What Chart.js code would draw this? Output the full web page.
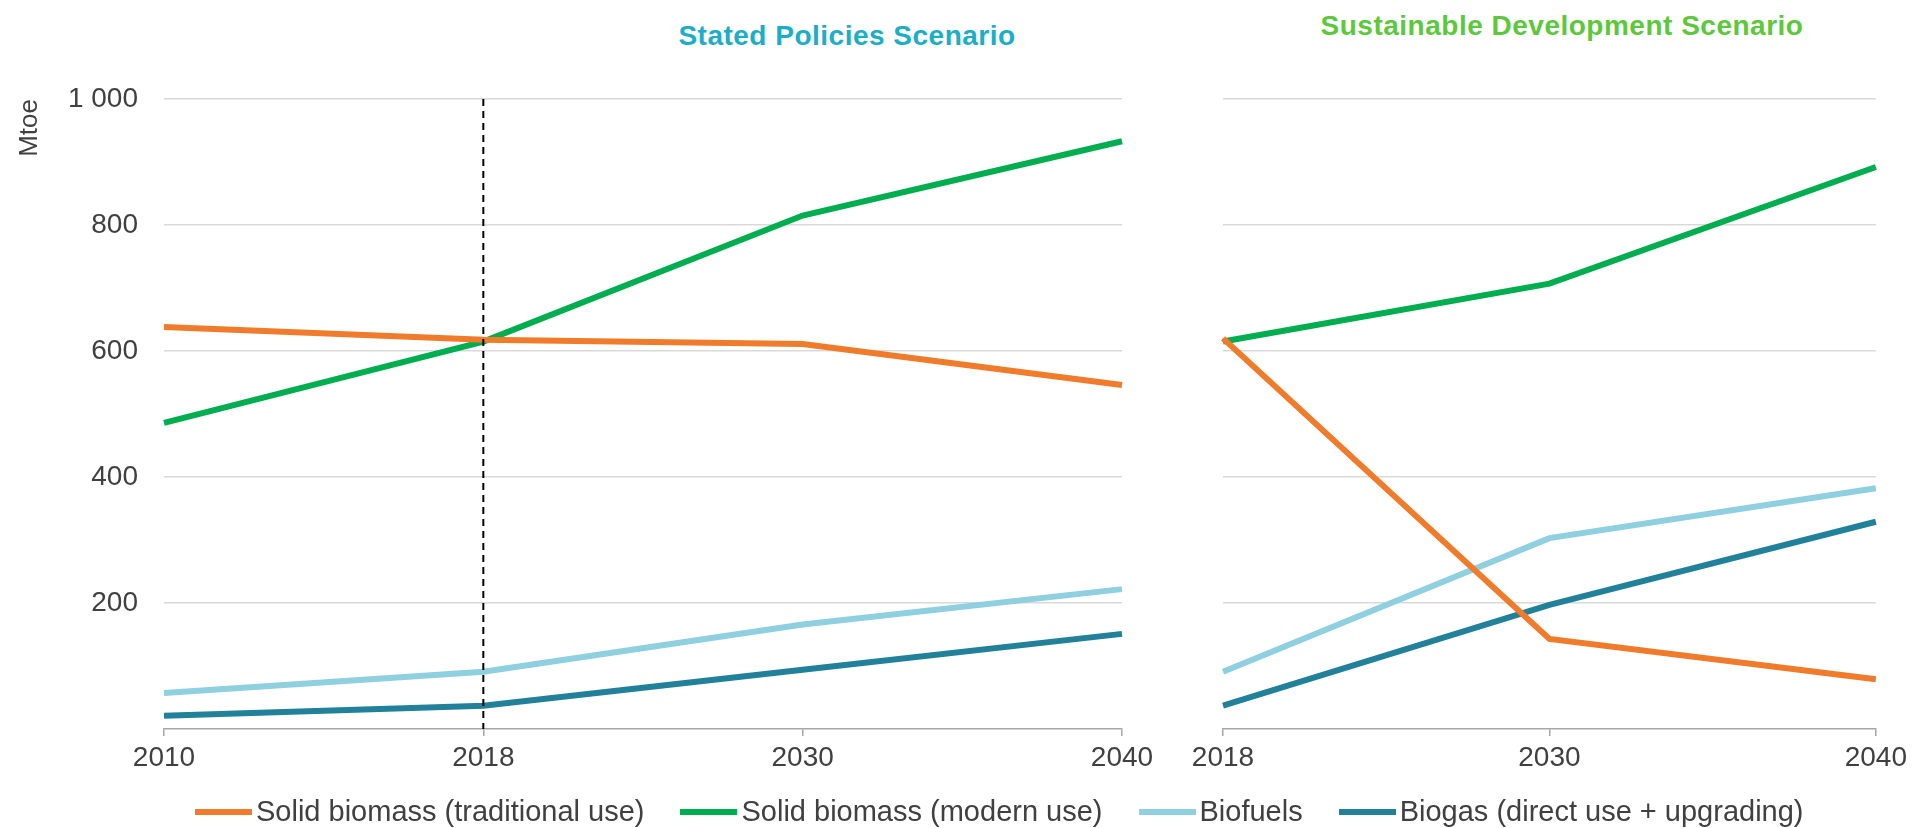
<!DOCTYPE html>
<html>
<head>
<meta charset="utf-8">
<script src="https://cdn.jsdelivr.net/npm/chart.js@4"></script>
<style>
    html, body { margin: 0; padding: 0; background: #ffffff; }
    body { width: 1912px; height: 828px; position: relative; overflow: hidden; font-family: "Liberation Sans", Arial, sans-serif; }
    canvas { position: absolute; top: 0; }
    #leftChart { left: 0; }
    #rightChart { left: 1180px; }
    .panelTitle { position: absolute; text-align: center; font-weight: bold; font-size: 28px; letter-spacing: 0.5px; white-space: nowrap; }
    #titleLeft { left: 597px; width: 500px; top: 20px; color: #1aaec8; }
    #titleRight { left: 1312px; width: 500px; top: 10px; color: #5cc83b; }
    #legend { position: absolute; left: 195px; top: 795px; display: flex; align-items: center; font-size: 29px; color: #404040; white-space: nowrap; }
    .item { display: flex; align-items: center; margin-right: 36px; }
    .swatch { display: inline-block; width: 57px; height: 6px; margin-right: 4px; }
</style>
</head>
<body>
<div id="titleLeft" class="panelTitle">Stated Policies Scenario</div>
<div id="titleRight" class="panelTitle">Sustainable Development Scenario</div>
<canvas id="leftChart" width="1180" height="828"></canvas>
<canvas id="rightChart" width="732" height="828"></canvas>
<div id="legend"></div>

<script>
// categories
const stepsYears = ['2010', '2018', '2030', '2040'];
const sdsYears = ['2018', '2030', '2040'];
const baseYear = '2018';

// series names and colours
const seriesNames = ['Solid biomass (traditional use)', 'Solid biomass (modern use)', 'Biofuels', 'Biogas (direct use + upgrading)'];
const seriesColors = ['#f07b2a', '#00ad4f', '#8ecfe0', '#21809a'];

// Stated Policies Scenario (Mtoe)
const stepsTraditional = [638, 618, 611, 546];
const stepsModern = [486, 615, 815, 933];
const stepsBiofuels = [57, 91, 166, 222];
const stepsBiogas = [21, 37, 94, 151];

// Sustainable Development Scenario (Mtoe)
const sdsTraditional = [620, 143, 79];
const sdsModern = [615, 707, 892];
const sdsBiofuels = [91, 303, 382];
const sdsBiogas = [37, 197, 329];

// y axis ticks
const yTickValues = [0, 200, 400, 600, 800, 1000];
const yTickLabels = ['', '200', '400', '600', '800', '1 000'];

const textColor = '#404040';
const fontFamily = '"Liberation Sans", Arial, sans-serif';

function makeDatasets(values) {
    return values.map(function (v, i) {
        return {
            label: seriesNames[i],
            data: v,
            borderColor: seriesColors[i],
            backgroundColor: seriesColors[i],
            borderWidth: 6,
            pointRadius: 0,
            tension: 0,
            borderCapStyle: 'butt'
        };
    });
}

// dashed marker on the base year
const baseYearLine = {
    id: 'baseYearLine',
    afterDatasetsDraw: function (chart) {
        if (!chart.options.plugins.baseYearLine.show) return;
        let ctx = chart.ctx;
        let x = chart.scales.x.getPixelForValue(stepsYears.indexOf(baseYear));
        ctx.save();
        ctx.strokeStyle = '#000000';
        ctx.lineWidth = 2;
        ctx.setLineDash([7, 5]);
        ctx.beginPath();
        ctx.moveTo(x, chart.chartArea.top);
        ctx.lineTo(x, chart.chartArea.bottom);
        ctx.stroke();
        ctx.restore();
    }
};

function yScale(showLabels) {
    return {
        min: 0,
        max: 1000,
        afterBuildTicks: function (scale) {
            scale.ticks = yTickValues.map(v => ({ value: v }));
        },
        afterFit: function (scale) { scale.width = showLabels ? 164 : 0; },
        border: { display: false },
        grid: {
            color: ctx => ctx.tick && ctx.tick.value === 0 ? 'rgba(0,0,0,0)' : '#d9d9d9',
            lineWidth: 1.5,
            drawTicks: false
        },
        ticks: {
            display: showLabels,
            padding: 26,
            color: textColor,
            font: { family: fontFamily, size: 28 },
            callback: function (value) {
                let i = yTickValues.indexOf(value);
                return i >= 0 ? yTickLabels[i] : '';
            }
        },
        title: {
            display: showLabels,
            text: 'Mtoe',
            align: 'end',
            color: textColor,
            font: { family: fontFamily, size: 26 },
            padding: { top: 14, bottom: 0 }
        }
    };
}

function xScale() {
    return {
        type: 'category',
        offset: false,
        afterFit: function (scale) { scale.height = 40; },
        border: { display: true, color: '#a6a6a6', width: 1.5 },
        grid: {
            drawOnChartArea: false,
            drawTicks: true,
            tickLength: 7,
            color: '#a6a6a6',
            lineWidth: 1.5
        },
        ticks: {
            padding: 5,
            maxRotation: 0,
            autoSkip: false,
            color: textColor,
            font: { family: fontFamily, size: 28 }
        }
    };
}

let leftCtx = document.getElementById('leftChart').getContext('2d');
let leftChart = new Chart(leftCtx, {
    type: 'line',
    data: {
        labels: stepsYears,
        datasets: makeDatasets([stepsTraditional, stepsModern, stepsBiofuels, stepsBiogas])
    },
    options: {
        responsive: false,
        animation: false,
        devicePixelRatio: 1,
        layout: { padding: { left: 0, right: 58, top: 99, bottom: 59 } },
        plugins: {
            legend: { display: false },
            tooltip: { enabled: false },
            baseYearLine: { show: true }
        },
        scales: { x: xScale(), y: yScale(true) }
    },
    plugins: [baseYearLine]
});

let rightCtx = document.getElementById('rightChart').getContext('2d');
let rightChart = new Chart(rightCtx, {
    type: 'line',
    data: {
        labels: sdsYears,
        datasets: makeDatasets([sdsTraditional, sdsModern, sdsBiofuels, sdsBiogas])
    },
    options: {
        responsive: false,
        animation: false,
        devicePixelRatio: 1,
        layout: { padding: { left: 43, right: 32, top: 99, bottom: 59 } },
        plugins: {
            legend: { display: false },
            tooltip: { enabled: false },
            baseYearLine: { show: false }
        },
        scales: { x: xScale(), y: yScale(false) }
    },
    plugins: [baseYearLine]
});

// shared legend under both panels
let legendBox = document.getElementById('legend');
seriesNames.forEach(function (name, i) {
    let item = document.createElement('div');
    item.className = 'item';
    let swatch = document.createElement('span');
    swatch.className = 'swatch';
    swatch.style.background = seriesColors[i];
    let label = document.createElement('span');
    label.textContent = name;
    item.appendChild(swatch);
    item.appendChild(label);
    legendBox.appendChild(item);
});
</script>
</body>
</html>
